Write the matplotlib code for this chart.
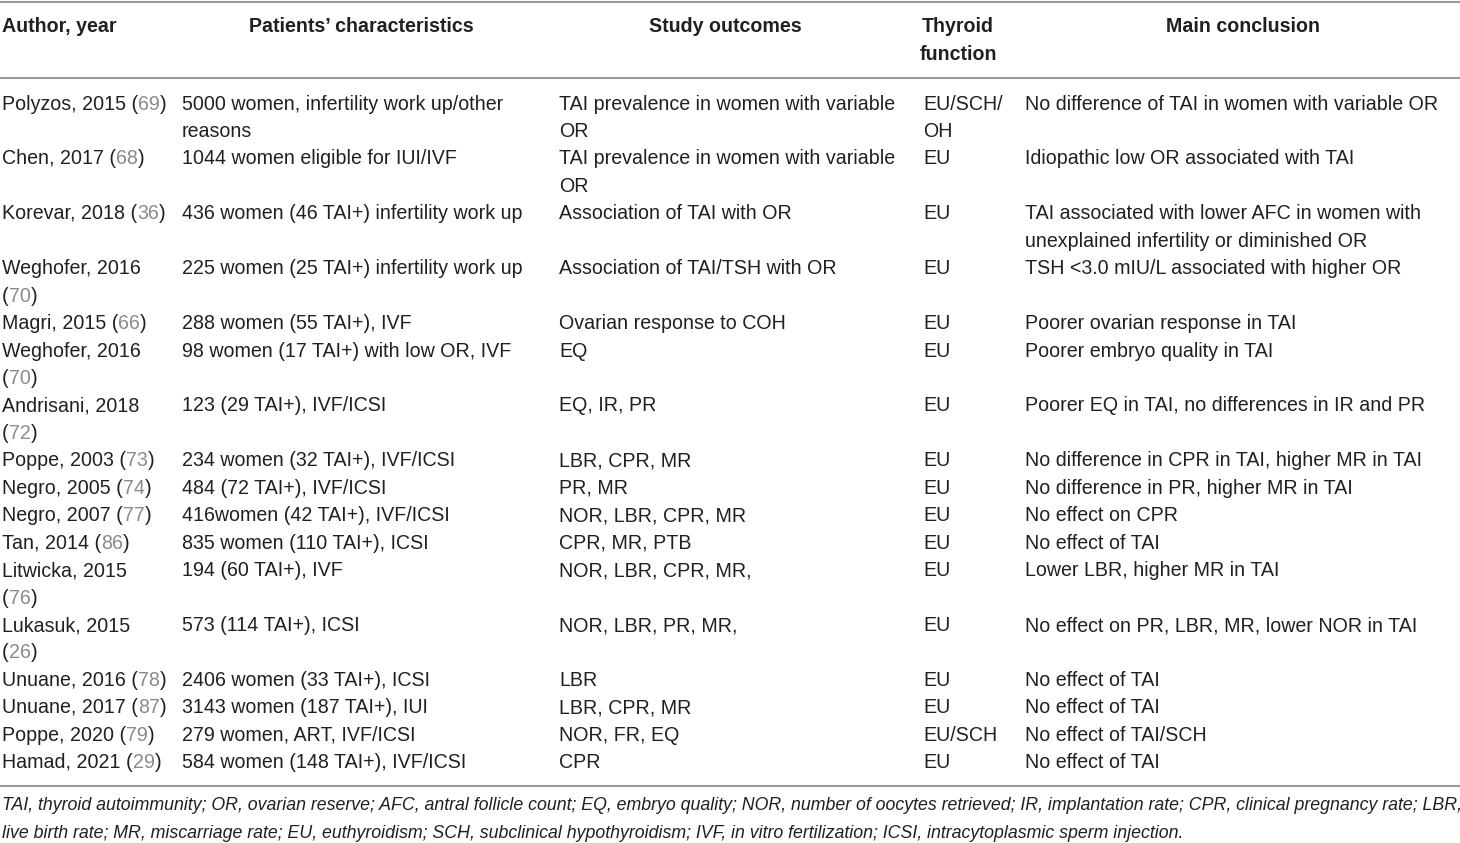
import re
import matplotlib.pyplot as plt

# table content
headers = ["Author, year", "Patients\u2019 characteristics", "Study outcomes",
           "Thyroid\nfunction", "Main conclusion"]

authors = ["Polyzos, 2015 (69)", "Chen, 2017 (68)", "Korevar, 2018 (36)",
           "Weghofer, 2016\n(70)", "Magri, 2015 (66)", "Weghofer, 2016\n(70)",
           "Andrisani, 2018\n(72)", "Poppe, 2003 (73)", "Negro, 2005 (74)",
           "Negro, 2007 (77)", "Tan, 2014 (86)", "Litwicka, 2015\n(76)",
           "Lukasuk, 2015\n(26)", "Unuane, 2016 (78)", "Unuane, 2017 (87)",
           "Poppe, 2020 (79)", "Hamad, 2021 (29)"]

patients = ["5000 women, infertility work up/other\nreasons",
            "1044 women eligible for IUI/IVF",
            "436 women (46 TAI+) infertility work up",
            "225 women (25 TAI+) infertility work up",
            "288 women (55 TAI+), IVF",
            "98 women (17 TAI+) with low OR, IVF",
            "123 (29 TAI+), IVF/ICSI",
            "234 women (32 TAI+), IVF/ICSI",
            "484 (72 TAI+), IVF/ICSI",
            "416women (42 TAI+), IVF/ICSI",
            "835 women (110 TAI+), ICSI",
            "194 (60 TAI+), IVF",
            "573 (114 TAI+), ICSI",
            "2406 women (33 TAI+), ICSI",
            "3143 women (187 TAI+), IUI",
            "279 women, ART, IVF/ICSI",
            "584 women (148 TAI+), IVF/ICSI"]

outcomes = ["TAI prevalence in women with variable\nOR",
            "TAI prevalence in women with variable\nOR",
            "Association of TAI with OR",
            "Association of TAI/TSH with OR",
            "Ovarian response to COH",
            "EQ", "EQ, IR, PR", "LBR, CPR, MR", "PR, MR",
            "NOR, LBR, CPR, MR", "CPR, MR, PTB", "NOR, LBR, CPR, MR,",
            "NOR, LBR, PR, MR,", "LBR", "LBR, CPR, MR", "NOR, FR, EQ", "CPR"]

thyroid = ["EU/SCH/\nOH", "EU", "EU", "EU", "EU", "EU", "EU", "EU", "EU",
           "EU", "EU", "EU", "EU", "EU", "EU", "EU/SCH", "EU"]

conclusions = ["No difference of TAI in women with variable OR",
               "Idiopathic low OR associated with TAI",
               "TAI associated with lower AFC in women with\nunexplained infertility or diminished OR",
               "TSH <3.0 mIU/L associated with higher OR",
               "Poorer ovarian response in TAI",
               "Poorer embryo quality in TAI",
               "Poorer EQ in TAI, no differences in IR and PR",
               "No difference in CPR in TAI, higher MR in TAI",
               "No difference in PR, higher MR in TAI",
               "No effect on CPR",
               "No effect of TAI",
               "Lower LBR, higher MR in TAI",
               "No effect on PR, LBR, MR, lower NOR in TAI",
               "No effect of TAI", "No effect of TAI",
               "No effect of TAI/SCH", "No effect of TAI"]

footnote = ["TAI, thyroid autoimmunity; OR, ovarian reserve; AFC, antral follicle count; EQ, embryo quality; "
            "NOR, number of oocytes retrieved; IR, implantation rate; CPR, clinical pregnancy rate; LBR,",
            "live birth rate; MR, miscarriage rate; EU, euthyroidism; SCH, subclinical hypothyroidism; "
            "IVF, in vitro fertilization; ICSI, intracytoplasmic sperm injection."]

plt.rcParams['font.family'] = ['Liberation Sans', 'DejaVu Sans']
TXT = '#231f20'
REF = '#8a8a8a'
RULE = '#9a9a9a'
FS = 14.1
FS_NOTE = 12.8
LINE_H = 27.45

fig = plt.figure(figsize=(14.6, 8.43), dpi=100)
ax = fig.add_axes([0, 0, 1, 1])
ax.set_xlim(0, 1460)
ax.set_ylim(843, 0)
ax.axis('off')
renderer = fig.canvas.get_renderer()

col_x = [2, 182, 559, 923, 1025]
head_cx = [None, 361, 725, 958, 1243]


def text_width(s, **kw):
    t = ax.text(0, 0, s, fontsize=FS, **kw)
    w = t.get_window_extent(renderer).width
    t.remove()
    return w


def put_line(x, y, s):
    # reference numbers like (69) get grey digits
    m = re.search(r'\((\d+)\)$', s)
    if not m:
        ax.text(x, y, s, fontsize=FS, color=TXT, va='center', ha='left')
        return
    pre = s[:m.start(1)]
    num = m.group(1)
    ax.text(x, y, pre, fontsize=FS, color=TXT, va='center', ha='left')
    x1 = x + text_width(pre)
    ax.text(x1, y, num, fontsize=FS, color=REF, va='center', ha='left')
    x2 = x + text_width(pre + num)
    ax.text(x2, y, ')', fontsize=FS, color=TXT, va='center', ha='left')


# rules
ax.plot([0, 1460], [1.5, 1.5], color=RULE, lw=1.5)
ax.plot([0, 1460], [78, 78], color=RULE, lw=1.5)
ax.plot([0, 1460], [786, 786], color=RULE, lw=1.5)

# header
ax.text(col_x[0], 27, headers[0], fontsize=FS, fontweight='bold', color=TXT,
        va='center', ha='left')
for i in range(1, 5):
    for k, ln in enumerate(headers[i].split('\n')):
        ax.text(head_cx[i], 27 + k * LINE_H, ln, fontsize=FS, fontweight='bold',
                color=TXT, va='center', ha='center')

# body
y = 104
for row in zip(authors, patients, outcomes, thyroid, conclusions):
    nlines = max(c.count('\n') + 1 for c in row)
    for ci, cell in enumerate(row):
        for k, ln in enumerate(cell.split('\n')):
            put_line(col_x[ci], y + k * LINE_H, ln)
    y += nlines * LINE_H

# footnote
for k, ln in enumerate(footnote):
    ax.text(2, 806 + k * LINE_H, ln, fontsize=FS_NOTE, style='italic', color=TXT,
            va='center', ha='left')

fig.savefig('out.png', dpi=100)
